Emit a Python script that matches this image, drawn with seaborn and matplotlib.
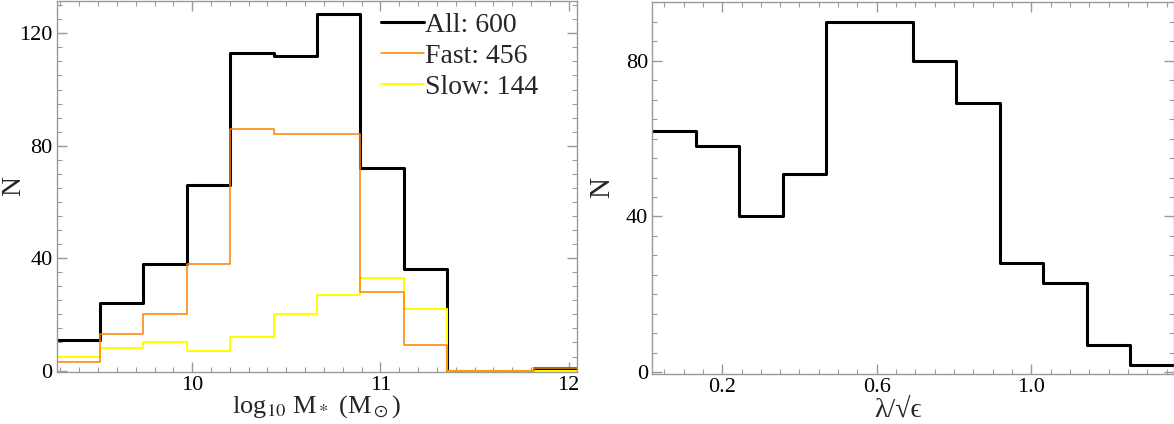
import numpy as np
import pandas as pd
import seaborn as sns
import matplotlib.pyplot as plt
from matplotlib.ticker import MultipleLocator

# left panel: stellar mass histogram, 12 bins
mass_lo, mass_hi, mass_nbins = 9.28, 12.046, 12
all_counts = [11, 24, 38, 66, 113, 112, 127, 72, 36, 0, 0, 1]
fast_counts = [3, 13, 20, 38, 86, 84, 84, 28, 9, 0, 0, 1]
slow_counts = [5, 8, 10, 7, 12, 20, 27, 33, 22, 0, 0, 0]
legend_labels = ["All: 600", "Fast: 456", "Slow: 144"]

# right panel: lambda / sqrt(eps) histogram, 12 bins
lam_lo, lam_hi, lam_nbins = 0.019, 1.368, 12
lam_counts = [62, 58, 40, 51, 90, 90, 80, 69, 28, 23, 7, 2]

sns.set_theme(style="ticks")
plt.rcParams["font.family"] = ["Liberation Serif", "DejaVu Serif"]
plt.rcParams["mathtext.fontset"] = "stix"

GREY = "#9a9a9a"


def style_axes(ax):
    for s in ax.spines.values():
        s.set_color(GREY)
        s.set_linewidth(1.0)
    ax.tick_params(which="both", direction="in", top=True, right=True,
                   color=GREY, labelcolor="black", labelsize=16)
    ax.tick_params(which="major", length=7, width=1.0, pad=3)
    ax.tick_params(which="minor", length=3.5, width=0.8)


def step_hist(ax, lo, hi, nbins, counts, **kws):
    edges = np.linspace(lo, hi, nbins + 1)
    df = pd.DataFrame({"x": 0.5 * (edges[:-1] + edges[1:]), "n": counts})
    sns.histplot(data=df, x="x", weights="n", bins=list(edges), element="step",
                 fill=False, ax=ax, **kws)


fig = plt.figure(figsize=(11.74, 4.24), dpi=100)
ax1 = fig.add_axes([0.0483, 0.1234, 0.4434, 0.8743])
ax2 = fig.add_axes([0.5556, 0.1190, 0.4440, 0.8760])

step_hist(ax1, mass_lo, mass_hi, mass_nbins, all_counts, color="black", linewidth=2.2)
step_hist(ax1, mass_lo, mass_hi, mass_nbins, slow_counts, color="#ffff00", linewidth=1.5)
step_hist(ax1, mass_lo, mass_hi, mass_nbins, fast_counts, color="#ff8000", linewidth=1.1)

l_all, l_slow, l_fast = ax1.lines[:3]
ax1.legend([l_all, l_fast, l_slow], legend_labels, loc="upper left",
           bbox_to_anchor=(0.612, 0.985), frameon=False, fontsize=20,
           handlelength=1.55, handletextpad=0.05, labelspacing=0.2,
           borderpad=0.2, borderaxespad=0)

ax1.set_xlim(mass_lo, mass_hi)
ax1.set_ylim(-0.4, 131.5)
ax1.xaxis.set_major_locator(MultipleLocator(1))
ax1.xaxis.set_minor_locator(MultipleLocator(0.1))
ax1.yaxis.set_major_locator(MultipleLocator(40))
ax1.yaxis.set_minor_locator(MultipleLocator(5))
ax1.set_xlabel(r"log$_{10}$ M$_*$ (M$_\odot$)", fontsize=19)
ax1.xaxis.set_label_coords(0.5, -0.058)
ax1.set_ylabel("N", fontsize=20)
ax1.yaxis.set_label_coords(-0.058, 0.5)
style_axes(ax1)

step_hist(ax2, lam_lo, lam_hi, lam_nbins, lam_counts, color="black", linewidth=2.2)

ax2.set_xlim(lam_lo, lam_hi)
ax2.set_ylim(-0.3, 95)
ax2.xaxis.set_major_locator(MultipleLocator(0.4))
ax2.xaxis.set_minor_locator(MultipleLocator(0.05))
ax2.yaxis.set_major_locator(MultipleLocator(40))
ax2.yaxis.set_minor_locator(MultipleLocator(5))
ax2.set_xticks([0.2, 0.6, 1.0])
ax2.set_xticklabels(["0.2", "0.6", "1.0"])
ax2.set_xlabel("λ/√ϵ", fontsize=20)
ax2.xaxis.set_label_coords(0.471, -0.066)
ax2.set_ylabel("N", fontsize=21)
ax2.yaxis.set_label_coords(-0.072, 0.5)
style_axes(ax2)

fig.savefig("out.png", dpi=100)
